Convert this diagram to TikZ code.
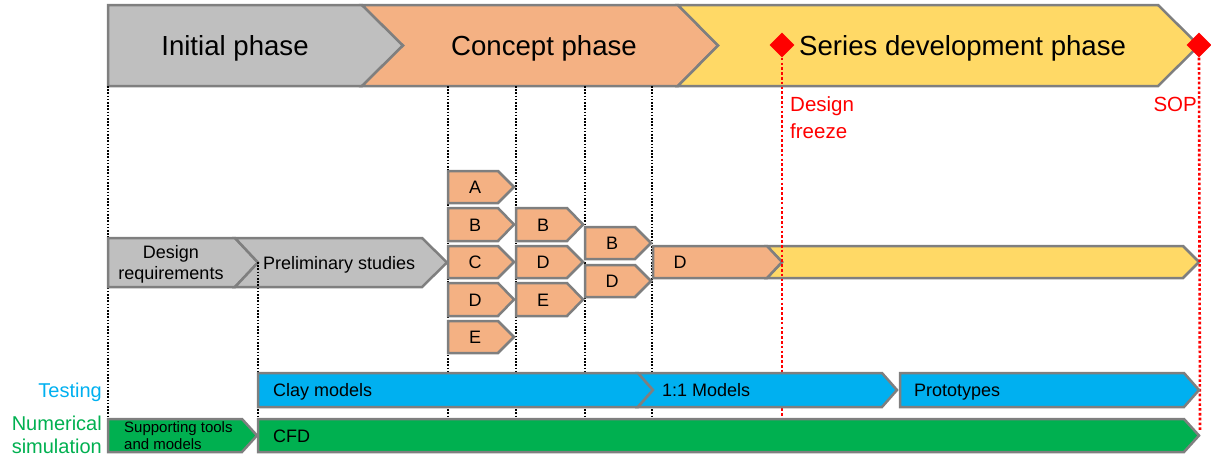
\documentclass[tikz,border=0pt]{standalone}
\usepackage{fontspec}
\setmainfont{Liberation Sans}
\usetikzlibrary{shapes.geometric}
\definecolor{grayf}{HTML}{BFBFBF}
\definecolor{orangef}{HTML}{F4B183}
\definecolor{yellowf}{HTML}{FFD966}
\definecolor{bluef}{HTML}{00B0F0}
\definecolor{greenf}{HTML}{00B050}
\definecolor{edge}{HTML}{7F7F7F}
\tikzset{
  box/.style={draw=edge, line width=2.5pt, line join=miter},
  txt/.style={inner sep=0pt, anchor=base},
  blackdot/.style={draw=black, line width=1.6pt, dash pattern=on 1.6pt off 1.6pt},
  reddot/.style={draw=red, line width=2.6pt, dash pattern=on 2.6pt off 2.2pt},
  milestone/.style={diamond, fill=red, inner sep=0pt, minimum width=25pt, minimum height=25pt},
}
% style, x0, x1 (body end), top, bottom, tip depth, notch depth
\newcommand{\chv}[7]{%
  \path[#1] (#2,#4) -- (#3,#4) -- ({#3+#6},{(#4+#5)/2}) -- (#3,#5) -- (#2,#5) -- ({#2+#7},{(#4+#5)/2}) -- cycle;}
\begin{document}
\begin{tikzpicture}[x=1pt,y=-1pt]
\useasboundingbox (0,0) rectangle (1211,456);

% ---- banner
\chv{box,fill=grayf}{108}{362}{5}{86}{41}{0}
\chv{box,fill=orangef}{362}{678}{5}{86}{40}{41}
\chv{box,fill=yellowf}{678}{1158}{5}{86}{41}{40}
\node[txt,font=\fontsize{27.6}{32}\selectfont] (ini) at (235,55) {Initial phase};
\node[txt,font=\fontsize{27.6}{32}\selectfont] (con) at (544,55) {Concept phase};
\node[txt,anchor=base west,font=\fontsize{27.6}{32}\selectfont] (ser) at (799,55) {Series development phase};

% ---- black dotted guide lines
\coordinate (g1t) at (108,86);  \coordinate (g1b) at (108,419);
\coordinate (g2t) at (448,86);  \coordinate (g2b) at (448,419);
\coordinate (g3t) at (516,86);  \coordinate (g3b) at (516,419);
\coordinate (g4t) at (585,86);  \coordinate (g4b) at (585,419);
\coordinate (g5t) at (652,86);  \coordinate (g5b) at (652,419);
\coordinate (g6t) at (258,262); \coordinate (g6b) at (258,419);
\draw[blackdot] (g1t) -- (g1b);
\draw[blackdot] (g2t) -- (g2b);
\draw[blackdot] (g3t) -- (g3b);
\draw[blackdot] (g4t) -- (g4b);
\draw[blackdot] (g5t) -- (g5b);

% ---- initial row
\chv{box,fill=grayf}{108}{235}{238}{287}{23}{0}
\chv{box,fill=grayf}{235}{422}{238}{287}{25}{23}
\node[txt,font=\fontsize{18}{20}\selectfont] (dr1) at (171,258) {Design};
\node[txt,font=\fontsize{18}{20}\selectfont] (dr2) at (171,279) {requirements};
\node[txt,anchor=base west,font=\fontsize{18}{20}\selectfont] (pre) at (263,269) {Preliminary studies};
\draw[blackdot] (g6t) -- (g6b);

% ---- concept variants
\tikzset{letter/.style={txt,font=\fontsize{18}{20}\selectfont}}
\chv{box,fill=orangef}{448}{498}{171}{203}{16}{0}
\chv{box,fill=orangef}{448}{498}{208}{241}{16}{0}
\chv{box,fill=orangef}{448}{498}{246}{278}{16}{0}
\chv{box,fill=orangef}{448}{498}{283}{316}{16}{0}
\chv{box,fill=orangef}{448}{498}{321}{353}{16}{0}
\node[letter] (a1) at (475,193.5) {A};
\node[letter] (b1) at (475,231) {B};
\node[letter] (c1) at (475,268.5) {C};
\node[letter] (d1) at (475,306) {D};
\node[letter] (e1) at (475,343.5) {E};
\chv{box,fill=orangef}{516}{567}{208}{241}{16}{0}
\chv{box,fill=orangef}{516}{567}{246}{278}{16}{0}
\chv{box,fill=orangef}{516}{567}{283}{316}{16}{0}
\node[letter] (b2) at (543,231) {B};
\node[letter] (d2) at (543,268.5) {D};
\node[letter] (e2) at (543,306) {E};
\chv{box,fill=orangef}{585}{635}{227}{259}{16}{0}
\chv{box,fill=orangef}{585}{635}{265}{297}{16}{0}
\node[letter] (b3) at (612,249.5) {B};
\node[letter] (d3) at (612,287.5) {D};
\chv{box,fill=yellowf}{767}{1183}{246}{278}{16}{15}
\chv{box,fill=orangef}{653}{767}{246}{278}{15}{0}
\node[letter] (d4) at (680,268.5) {D};

% ---- milestones
\node[milestone] (df) at (782,45) {};
\node[milestone] (sop) at (1199,45) {};
\coordinate (dfb) at (782,419);
\coordinate (sopb) at (1200,430);
\draw[reddot] (df.south) -- (dfb);
\draw[reddot] (sop.south) -- (sopb);
\node[txt,anchor=base west,text=red,font=\fontsize{20.5}{24}\selectfont] (df1) at (790,111) {Design};
\node[txt,anchor=base west,text=red,font=\fontsize{20.5}{24}\selectfont] (df2) at (790,138) {freeze};
\node[txt,anchor=base east,text=red,font=\fontsize{20.5}{24}\selectfont] (sopl) at (1197,111) {SOP};

% ---- testing
\chv{box,fill=bluef}{258}{638}{373}{407}{15}{0}
\chv{box,fill=bluef}{638}{882}{373}{407}{15}{15}
\chv{box,fill=bluef}{900}{1184}{373}{407}{15}{0}
\node[txt,anchor=base west,font=\fontsize{18}{20}\selectfont] (clay) at (273,396) {Clay models};
\node[txt,anchor=base west,font=\fontsize{18}{20}\selectfont] (one) at (662,396) {1:1 Models};
\node[txt,anchor=base west,font=\fontsize{18}{20}\selectfont] (proto) at (914,396) {Prototypes};

% ---- numerical simulation
\chv{box,fill=greenf}{108}{242}{419}{452}{15}{0}
\chv{box,fill=greenf}{258}{1184}{419}{452}{15}{0}
\node[txt,anchor=base west,font=\fontsize{15}{18}\selectfont] (sup1) at (124,432) {Supporting tools};
\node[txt,anchor=base west,font=\fontsize{15}{18}\selectfont] (sup2) at (124,449) {and models};
\node[txt,anchor=base west,font=\fontsize{18}{20}\selectfont] (cfd) at (273,442) {CFD};

% ---- row labels
\node[txt,anchor=base east,text=bluef,font=\fontsize{20}{24}\selectfont] (test) at (102,397) {Testing};
\node[txt,anchor=base east,text=greenf,font=\fontsize{20}{24}\selectfont] (num1) at (102,430) {Numerical};
\node[txt,anchor=base east,text=greenf,font=\fontsize{20}{24}\selectfont] (num2) at (102,453) {simulation};
\end{tikzpicture}
\end{document}
